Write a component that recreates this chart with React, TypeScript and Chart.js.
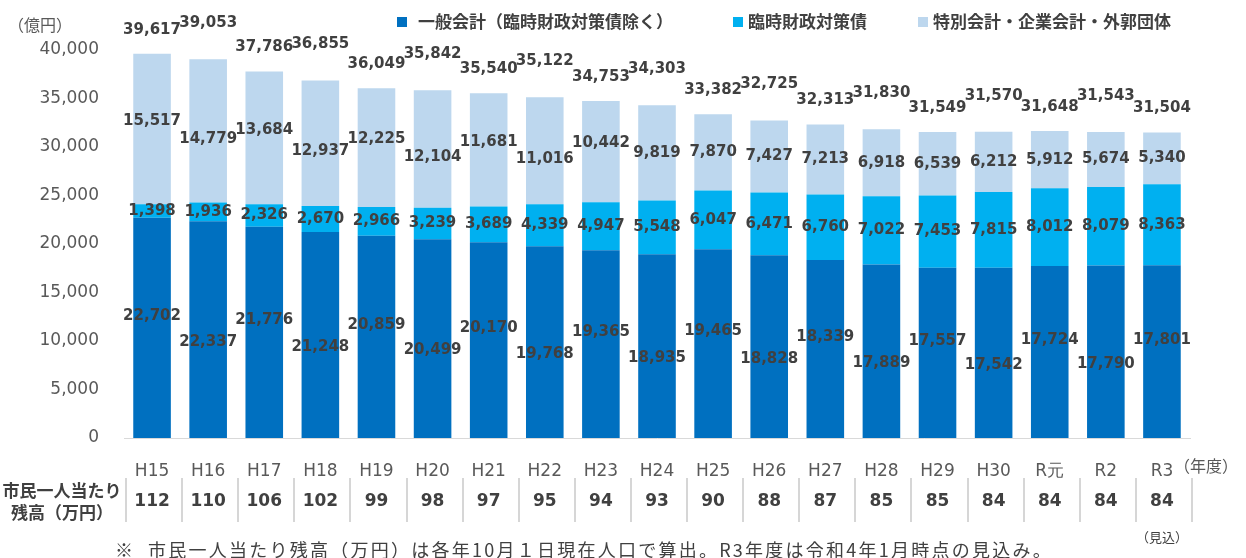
import React, { useEffect, useRef } from 'react';
import { Chart, registerables } from 'chart.js';

Chart.register(...registerables);

const categories = ['H15', 'H16', 'H17', 'H18', 'H19', 'H20', 'H21', 'H22', 'H23', 'H24', 'H25', 'H26', 'H27', 'H28', 'H29', 'H30', 'R元', 'R2', 'R3'];
const generalAccount = [22702, 22337, 21776, 21248, 20859, 20499, 20170, 19768, 19365, 18935, 19465, 18828, 18339, 17889, 17557, 17542, 17724, 17790, 17801];
const rinzaiBonds = [1398, 1936, 2326, 2670, 2966, 3239, 3689, 4339, 4947, 5548, 6047, 6471, 6760, 7022, 7453, 7815, 8012, 8079, 8363];
const specialAccounts = [15517, 14779, 13684, 12937, 12225, 12104, 11681, 11016, 10442, 9819, 7870, 7427, 7213, 6918, 6539, 6212, 5912, 5674, 5340];
const totals = [39617, 39053, 37786, 36855, 36049, 35842, 35540, 35122, 34753, 34303, 33382, 32725, 32313, 31830, 31549, 31570, 31648, 31543, 31504];
const perCapita = [112, 110, 106, 102, 99, 98, 97, 95, 94, 93, 90, 88, 87, 85, 85, 84, 84, 84, 84];
const seriesNames = ['一般会計（臨時財政対策債除く）', '臨時財政対策債', '特別会計・企業会計・外郭団体'];
const seriesColors = ['#0070C0', '#00B0F0', '#BDD7EE'];
const yTicks = [0, 5000, 10000, 15000, 20000, 25000, 30000, 35000, 40000];

const NUM_FONT = '"DejaVu Sans", Verdana, sans-serif';
const JP_FONT = '"Noto Sans CJK JP", "Noto Sans", sans-serif';
const TEXT = '#404040';
const AXIS_TEXT = '#595959';

const fmt = (v: number) => v.toLocaleString('en-US');

const overlayPlugin = {
  id: 'overlay',
  afterDraw(chart: any) {
    const ctx: CanvasRenderingContext2D = chart.ctx;
    const xs = chart.scales.x;
    const metas = [0, 1, 2].map((i) => chart.getDatasetMeta(i));
    const half = (xs.getPixelForValue(1) - xs.getPixelForValue(0)) / 2;
    ctx.save();

    // Segment labels (staggered when wider than the category slot)
    ctx.font = `bold 15px ${NUM_FONT}`;
    ctx.fillStyle = TEXT;
    ctx.textAlign = 'center';
    ctx.textBaseline = 'middle';
    const sets = [generalAccount, rinzaiBonds, specialAccounts];
    const stagger = [12, 0, 8];
    metas.forEach((meta: any, di: number) => {
      meta.data.forEach((bar: any, j: number) => {
        const text = fmt(sets[di][j]);
        const wide = ctx.measureText(text).width > half * 2 - 4;
        const off = wide ? (j % 2 === 0 ? -stagger[di] : stagger[di]) : 0;
        const cy = (bar.y + bar.base) / 2 + off;
        ctx.fillText(text, bar.x, cy);
      });
    });

    // Totals above bars
    metas[2].data.forEach((bar: any, j: number) => {
      const off = j % 2 === 1 ? 36 : 24;
      ctx.fillText(fmt(totals[j]), bar.x, bar.y - off);
    });

    // Legend
    const legendPos = [
      { sq: 397, tx: 418 },
      { sq: 733, tx: 748 },
      { sq: 918, tx: 933 },
    ];
    ctx.textAlign = 'left';
    ctx.font = `bold 17px ${JP_FONT}`;
    legendPos.forEach((p, i) => {
      ctx.fillStyle = seriesColors[i];
      ctx.fillRect(p.sq, 17, 10, 10);
      ctx.fillStyle = TEXT;
      ctx.fillText(seriesNames[i], p.tx, 22);
    });

    // Unit labels
    ctx.font = `16px ${JP_FONT}`;
    ctx.fillStyle = AXIS_TEXT;
    ctx.fillText('（億円）', 8, 25);
    ctx.fillText('（年度）', 1174, 466);

    // Table
    ctx.fillStyle = TEXT;
    ctx.textAlign = 'center';
    ctx.font = `bold 17px ${JP_FONT}`;
    ctx.fillText('市民一人当たり', 62, 491);
    ctx.fillText('残高（万円）', 62, 513);

    ctx.font = `bold 17px ${NUM_FONT}`;
    perCapita.forEach((v, j) => {
      ctx.fillText(String(v), xs.getPixelForValue(j), 502);
    });
    ctx.strokeStyle = '#C8C8C8';
    ctx.lineWidth = 1.5;
    for (let j = 0; j <= categories.length; j++) {
      const x = Math.round(xs.getPixelForValue(0) - half + j * half * 2) + 2;
      ctx.beginPath();
      ctx.moveTo(x, 478);
      ctx.lineTo(x, 522);
      ctx.stroke();
    }

    ctx.font = `13px ${JP_FONT}`;
    ctx.fillText('（見込）', xs.getPixelForValue(categories.length - 1), 537);

    // Footnote
    ctx.textAlign = 'left';
    ctx.font = `18px ${JP_FONT}`;
    ctx.fillText('※', 115, 550);
    const note = '市民一人当たり残高（万円）は各年10月１日現在人口で算出。R3年度は令和4年1月時点の見込み。';
    const w = ctx.measureText(note).width;
    const target = 1053 - 148;
    const spacing = (target - w) / note.length;
    (ctx as any).letterSpacing = `${spacing}px`;
    ctx.fillText(note, 148, 550);
    (ctx as any).letterSpacing = '0px';

    ctx.restore();
  },
};

export default function App() {
  const ref = useRef<HTMLCanvasElement>(null);

  useEffect(() => {
    const canvas = ref.current!;
    const chart = new Chart(canvas, {
      type: 'bar',
      data: {
        labels: categories,
        datasets: [generalAccount, rinzaiBonds, specialAccounts].map((d, i) => ({
          label: seriesNames[i],
          data: d,
          backgroundColor: seriesColors[i],
          borderWidth: 0,
          categoryPercentage: 1,
          barPercentage: 0.67,
        })),
      },
      options: {
        responsive: false,
        animation: false,
        devicePixelRatio: 1,
        layout: { padding: { left: 0, top: 50, right: 56, bottom: 80 } },
        plugins: { legend: { display: false }, tooltip: { enabled: false } },
        scales: {
          x: {
            stacked: true,
            grid: { display: false },
            border: { display: true, color: '#D9D9D9', width: 1 },
            ticks: {
              color: AXIS_TEXT,
              font: { family: NUM_FONT, size: 17 },
              padding: 15,
              maxRotation: 0,
              autoSkip: false,
            },
            afterFit: (s: any) => {
              s.height = 40;
            },
          },
          y: {
            stacked: true,
            min: 0,
            max: 40000,
            afterBuildTicks: (s: any) => {
              s.ticks = yTicks.map((v) => ({ value: v }));
            },
            ticks: {
              color: AXIS_TEXT,
              font: { family: NUM_FONT, size: 17 },
              padding: 25,
              callback: (v: any) => fmt(Number(v)),
            },
            grid: { display: false, drawTicks: false },
            border: { display: false },
            afterFit: (s: any) => {
              s.width = 124;
            },
          },
        },
      },
      plugins: [overlayPlugin],
    } as any);
    return () => chart.destroy();
  }, []);

  return (
    <div style={{ position: 'absolute', left: 0, top: 0, width: 1246, height: 558, background: '#fff' }}>
      <canvas ref={ref} width={1246} height={558} style={{ display: 'block', width: 1246, height: 558 }} />
    </div>
  );
}
